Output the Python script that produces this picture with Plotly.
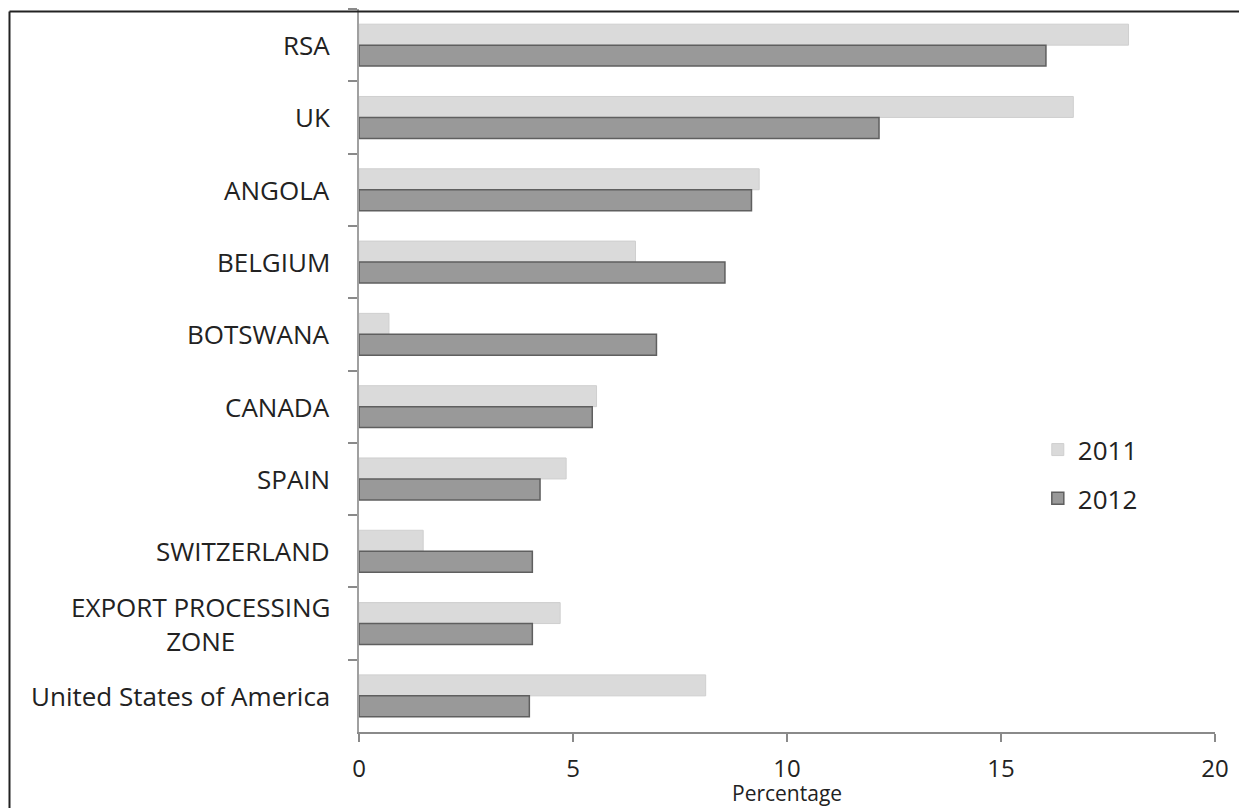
import plotly.graph_objects as go

# Destinations, top to bottom
countries = [
    "RSA",
    "UK",
    "ANGOLA",
    "BELGIUM",
    "BOTSWANA",
    "CANADA",
    "SPAIN",
    "SWITZERLAND",
    "EXPORT PROCESSING<br>ZONE",
    "United States of America",
]

# Share of exports (%)
share_2011 = [17.98, 16.69, 9.35, 6.46, 0.70, 5.55, 4.84, 1.50, 4.70, 8.10]
share_2012 = [16.05, 12.15, 9.17, 8.55, 6.95, 5.45, 4.23, 4.05, 4.05, 3.98]

x_ticks = [0, 5, 10, 15, 20]

FONT = "'Open Sans', sans-serif"
TEXT = "#222222"
FRAME = dict(color="#222222", width=2)

fig = go.Figure()
fig.add_trace(go.Bar(
    y=countries, x=share_2011, name="2011", orientation="h",
    legendgroup="a",
    marker=dict(color="#dadada", line=dict(color="#cfcfcf", width=1)),
))
fig.add_trace(go.Bar(
    y=countries, x=share_2012, name="2012", orientation="h",
    legendgroup="b",
    marker=dict(color="#999999", line=dict(color="#5f5f5f", width=1.5)),
))

# Category labels, centred line by line
for c in countries:
    fig.add_annotation(
        x=-0.032, xref="paper", y=c, yref="y",
        text=c, showarrow=False, xanchor="right", yanchor="middle",
        align="center", font=dict(family=FONT, size=26, color=TEXT),
    )

# Value-axis title, set just under the tick labels
fig.add_annotation(
    x=0.5, xref="paper", y=-0.0845, yref="paper",
    text="Percentage", showarrow=False, xanchor="center", yanchor="middle",
    font=dict(family=FONT, size=21, color=TEXT),
)

fig.update_layout(
    width=1239, height=808,
    margin=dict(l=359, r=24, t=9, b=76, autoexpand=False),
    paper_bgcolor="white", plot_bgcolor="white",
    barmode="group", bargap=0.42, bargroupgap=0,
    font=dict(family=FONT, color=TEXT),
    showlegend=True,
    legend=dict(
        x=0.793, y=0.423, xanchor="left", yanchor="top",
        font=dict(family=FONT, size=26, color=TEXT),
        tracegroupgap=12, bgcolor="rgba(0,0,0,0)",
    ),
    xaxis=dict(
        range=[0, 20], tickvals=x_ticks, ticktext=[str(t) for t in x_ticks],
        ticks="outside", ticklen=8, tickcolor="#8a8a8a", tickwidth=1.5,
        showline=True, linecolor="#8a8a8a", linewidth=1.5,
        showgrid=False, zeroline=False, automargin=False,
        ticklabelstandoff=6,
        tickfont=dict(family=FONT, size=24, color=TEXT),
    ),
    yaxis=dict(
        type="category", autorange="reversed", automargin=False,
        tickson="boundaries", ticks="outside", ticklen=9,
        tickcolor="#8a8a8a", tickwidth=1.5,
        showline=True, linecolor="#a0a0a0", linewidth=1.5,
        showgrid=False, zeroline=False, showticklabels=False,
    ),
    # frame: left and top edges of the surrounding box
    shapes=[
        dict(type="line", xref="paper", yref="paper",
             x0=-0.4083, x1=-0.4083, y0=-0.2, y1=0.9965, line=FRAME),
        dict(type="line", xref="paper", yref="paper",
             x0=-0.4083, x1=1.2, y0=0.9965, y1=0.9965, line=FRAME),
    ],
)

fig.write_html("out.html")
